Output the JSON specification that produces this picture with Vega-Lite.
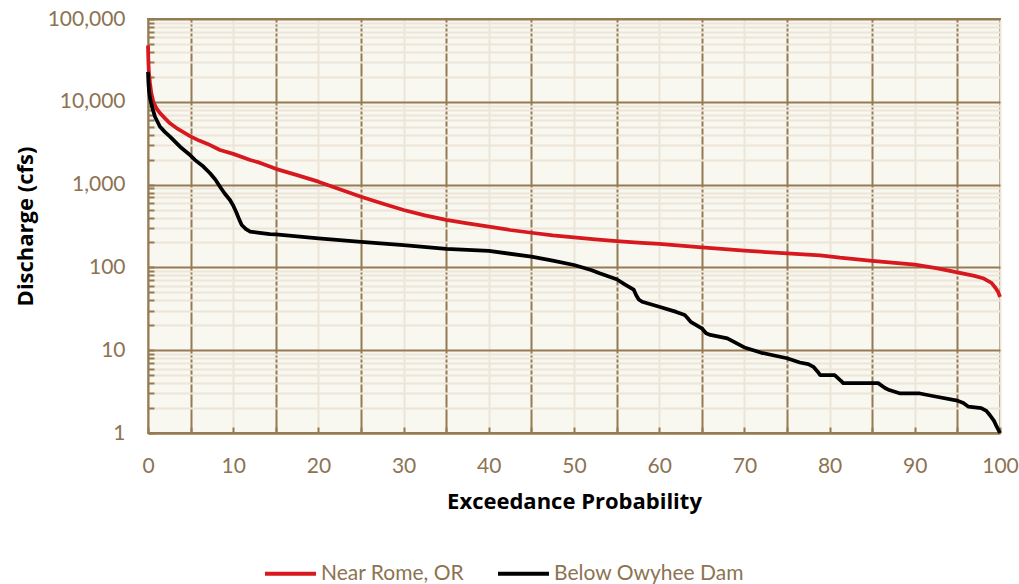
{
  "$schema": "https://vega.github.io/schema/vega-lite/v6.json",
  "width": 852,
  "height": 414,
  "autosize": {"type": "none"},
  "padding": {"left": 148, "top": 19, "right": 19, "bottom": 151},
  "background": "white",
  "config": {
    "view": {"fill": "#F8F7F0", "stroke": "#957B52", "strokeWidth": 2},
    "font": "Lato"
  },
  "datasets": {
    "flows": [
      {"site": "Near Rome, OR", "p": 0, "q": 48000},
      {"site": "Near Rome, OR", "p": 0.05, "q": 30000},
      {"site": "Near Rome, OR", "p": 0.1, "q": 23000},
      {"site": "Near Rome, OR", "p": 0.23, "q": 16900},
      {"site": "Near Rome, OR", "p": 0.4, "q": 12500},
      {"site": "Near Rome, OR", "p": 0.63, "q": 10000},
      {"site": "Near Rome, OR", "p": 1.0, "q": 8300},
      {"site": "Near Rome, OR", "p": 1.41, "q": 7300},
      {"site": "Near Rome, OR", "p": 2.0, "q": 6300},
      {"site": "Near Rome, OR", "p": 2.58, "q": 5500},
      {"site": "Near Rome, OR", "p": 3.5, "q": 4700},
      {"site": "Near Rome, OR", "p": 4.93, "q": 3850},
      {"site": "Near Rome, OR", "p": 6, "q": 3400},
      {"site": "Near Rome, OR", "p": 7, "q": 3100},
      {"site": "Near Rome, OR", "p": 8.45, "q": 2620},
      {"site": "Near Rome, OR", "p": 10, "q": 2350},
      {"site": "Near Rome, OR", "p": 12, "q": 1980},
      {"site": "Near Rome, OR", "p": 13.1, "q": 1840},
      {"site": "Near Rome, OR", "p": 15, "q": 1550},
      {"site": "Near Rome, OR", "p": 17.5, "q": 1300},
      {"site": "Near Rome, OR", "p": 20, "q": 1085},
      {"site": "Near Rome, OR", "p": 22.5, "q": 880},
      {"site": "Near Rome, OR", "p": 25, "q": 714},
      {"site": "Near Rome, OR", "p": 27.5, "q": 590},
      {"site": "Near Rome, OR", "p": 30, "q": 493},
      {"site": "Near Rome, OR", "p": 32.5, "q": 425},
      {"site": "Near Rome, OR", "p": 35, "q": 375},
      {"site": "Near Rome, OR", "p": 37.5, "q": 340},
      {"site": "Near Rome, OR", "p": 40, "q": 310},
      {"site": "Near Rome, OR", "p": 42.5, "q": 283},
      {"site": "Near Rome, OR", "p": 45, "q": 262},
      {"site": "Near Rome, OR", "p": 47.5, "q": 244},
      {"site": "Near Rome, OR", "p": 50, "q": 231},
      {"site": "Near Rome, OR", "p": 52.5, "q": 218},
      {"site": "Near Rome, OR", "p": 55, "q": 207},
      {"site": "Near Rome, OR", "p": 57.5, "q": 199},
      {"site": "Near Rome, OR", "p": 60, "q": 192},
      {"site": "Near Rome, OR", "p": 65, "q": 175},
      {"site": "Near Rome, OR", "p": 70, "q": 159},
      {"site": "Near Rome, OR", "p": 75, "q": 148},
      {"site": "Near Rome, OR", "p": 78.9, "q": 140},
      {"site": "Near Rome, OR", "p": 81.2, "q": 131},
      {"site": "Near Rome, OR", "p": 85, "q": 120},
      {"site": "Near Rome, OR", "p": 90, "q": 108},
      {"site": "Near Rome, OR", "p": 92.5, "q": 98},
      {"site": "Near Rome, OR", "p": 95, "q": 87},
      {"site": "Near Rome, OR", "p": 97, "q": 79},
      {"site": "Near Rome, OR", "p": 98, "q": 74},
      {"site": "Near Rome, OR", "p": 99, "q": 65},
      {"site": "Near Rome, OR", "p": 99.5, "q": 56},
      {"site": "Near Rome, OR", "p": 99.8, "q": 50},
      {"site": "Near Rome, OR", "p": 100, "q": 44},
      {"site": "Below Owyhee Dam", "p": 0, "q": 23000},
      {"site": "Below Owyhee Dam", "p": 0.05, "q": 17000},
      {"site": "Below Owyhee Dam", "p": 0.12, "q": 13500},
      {"site": "Below Owyhee Dam", "p": 0.23, "q": 11100},
      {"site": "Below Owyhee Dam", "p": 0.5, "q": 8500},
      {"site": "Below Owyhee Dam", "p": 0.82, "q": 6600},
      {"site": "Below Owyhee Dam", "p": 1.41, "q": 5000},
      {"site": "Below Owyhee Dam", "p": 2.0, "q": 4300},
      {"site": "Below Owyhee Dam", "p": 2.58, "q": 3800},
      {"site": "Below Owyhee Dam", "p": 3.76, "q": 2870},
      {"site": "Below Owyhee Dam", "p": 4.93, "q": 2280},
      {"site": "Below Owyhee Dam", "p": 5.5, "q": 1990},
      {"site": "Below Owyhee Dam", "p": 6.5, "q": 1650},
      {"site": "Below Owyhee Dam", "p": 7.28, "q": 1370},
      {"site": "Below Owyhee Dam", "p": 7.9, "q": 1150},
      {"site": "Below Owyhee Dam", "p": 8.45, "q": 944},
      {"site": "Below Owyhee Dam", "p": 9.0, "q": 780},
      {"site": "Below Owyhee Dam", "p": 9.62, "q": 651},
      {"site": "Below Owyhee Dam", "p": 10.0, "q": 560},
      {"site": "Below Owyhee Dam", "p": 10.4, "q": 454},
      {"site": "Below Owyhee Dam", "p": 10.7, "q": 380},
      {"site": "Below Owyhee Dam", "p": 11.0, "q": 325},
      {"site": "Below Owyhee Dam", "p": 11.5, "q": 290},
      {"site": "Below Owyhee Dam", "p": 12, "q": 270},
      {"site": "Below Owyhee Dam", "p": 13.1, "q": 262},
      {"site": "Below Owyhee Dam", "p": 14.3, "q": 253},
      {"site": "Below Owyhee Dam", "p": 15, "q": 250},
      {"site": "Below Owyhee Dam", "p": 20, "q": 224},
      {"site": "Below Owyhee Dam", "p": 25, "q": 204},
      {"site": "Below Owyhee Dam", "p": 30, "q": 186},
      {"site": "Below Owyhee Dam", "p": 35, "q": 167},
      {"site": "Below Owyhee Dam", "p": 40, "q": 158},
      {"site": "Below Owyhee Dam", "p": 45, "q": 135},
      {"site": "Below Owyhee Dam", "p": 47.5, "q": 121},
      {"site": "Below Owyhee Dam", "p": 50, "q": 107},
      {"site": "Below Owyhee Dam", "p": 52, "q": 93},
      {"site": "Below Owyhee Dam", "p": 53, "q": 85},
      {"site": "Below Owyhee Dam", "p": 55, "q": 72},
      {"site": "Below Owyhee Dam", "p": 56, "q": 62},
      {"site": "Below Owyhee Dam", "p": 57, "q": 54},
      {"site": "Below Owyhee Dam", "p": 57.3, "q": 46},
      {"site": "Below Owyhee Dam", "p": 57.6, "q": 41},
      {"site": "Below Owyhee Dam", "p": 58, "q": 38.5},
      {"site": "Below Owyhee Dam", "p": 60, "q": 33.5},
      {"site": "Below Owyhee Dam", "p": 62, "q": 29},
      {"site": "Below Owyhee Dam", "p": 63, "q": 26.6},
      {"site": "Below Owyhee Dam", "p": 63.4, "q": 24},
      {"site": "Below Owyhee Dam", "p": 63.7, "q": 22},
      {"site": "Below Owyhee Dam", "p": 65, "q": 18.4},
      {"site": "Below Owyhee Dam", "p": 65.5, "q": 16},
      {"site": "Below Owyhee Dam", "p": 66, "q": 15.3},
      {"site": "Below Owyhee Dam", "p": 68, "q": 13.9},
      {"site": "Below Owyhee Dam", "p": 70, "q": 10.8},
      {"site": "Below Owyhee Dam", "p": 72, "q": 9.3},
      {"site": "Below Owyhee Dam", "p": 75, "q": 8.0},
      {"site": "Below Owyhee Dam", "p": 76.5, "q": 7.1},
      {"site": "Below Owyhee Dam", "p": 77.5, "q": 6.8},
      {"site": "Below Owyhee Dam", "p": 78.1, "q": 6.3},
      {"site": "Below Owyhee Dam", "p": 78.6, "q": 5.5},
      {"site": "Below Owyhee Dam", "p": 78.9, "q": 5.0},
      {"site": "Below Owyhee Dam", "p": 80.6, "q": 5.0},
      {"site": "Below Owyhee Dam", "p": 81.3, "q": 4.3},
      {"site": "Below Owyhee Dam", "p": 81.6, "q": 4.0},
      {"site": "Below Owyhee Dam", "p": 85.7, "q": 4.0},
      {"site": "Below Owyhee Dam", "p": 86.5, "q": 3.5},
      {"site": "Below Owyhee Dam", "p": 87, "q": 3.3},
      {"site": "Below Owyhee Dam", "p": 88.3, "q": 3.0},
      {"site": "Below Owyhee Dam", "p": 90.6, "q": 3.0},
      {"site": "Below Owyhee Dam", "p": 92.1, "q": 2.8},
      {"site": "Below Owyhee Dam", "p": 95, "q": 2.46},
      {"site": "Below Owyhee Dam", "p": 95.7, "q": 2.3},
      {"site": "Below Owyhee Dam", "p": 96.3, "q": 2.08},
      {"site": "Below Owyhee Dam", "p": 97.8, "q": 2.0},
      {"site": "Below Owyhee Dam", "p": 98.4, "q": 1.85},
      {"site": "Below Owyhee Dam", "p": 98.8, "q": 1.65},
      {"site": "Below Owyhee Dam", "p": 99.3, "q": 1.4},
      {"site": "Below Owyhee Dam", "p": 99.6, "q": 1.2},
      {"site": "Below Owyhee Dam", "p": 100, "q": 1.0}
    ]
  },
  "data": {"name": "flows"},
  "mark": {"type": "line", "strokeWidth": 3.75, "strokeJoin": "round", "strokeCap": "butt"},
  "encoding": {
    "x": {
      "field": "p",
      "type": "quantitative",
      "scale": {"domain": [0, 100], "nice": false, "zero": false},
      "axis": {
        "values": [0, 5, 10, 15, 20, 25, 30, 35, 40, 45, 50, 55, 60, 65, 70, 75, 80, 85, 90, 95, 100],
        "labelExpr": "datum.value % 10 === 0 ? datum.label : ''",
        "format": "d",
        "grid": true,
        "gridColor": {"condition": {"test": "datum.value % 10 === 0", "value": "#EDE5D8"}, "value": "#957B52"},
        "gridWidth": 2,
        "domainColor": "#957B52",
        "domainWidth": 2,
        "ticks": true,
        "tickSize": -6,
        "tickWidth": 2,
        "tickColor": "#957B52",
        "labelFont": "Lato",
        "labelFontSize": 21,
        "labelColor": "#8C7352",
        "labelPadding": 28,
        "labelFlush": false,
        "labelOverlap": false,
        "title": "Exceedance Probability",
        "titleFont": "Open Sans",
        "titleFontSize": 22,
        "titleFontWeight": "bold",
        "titleColor": "#000000",
        "titlePadding": 15
      }
    },
    "y": {
      "field": "q",
      "type": "quantitative",
      "scale": {"type": "log", "domain": [1, 100000], "nice": false},
      "axis": {
        "values": [1, 2, 3, 4, 5, 6, 7, 8, 9, 10, 20, 30, 40, 50, 60, 70, 80, 90, 100, 200, 300, 400, 500, 600, 700, 800, 900, 1000, 2000, 3000, 4000, 5000, 6000, 7000, 8000, 9000, 10000, 20000, 30000, 40000, 50000, 60000, 70000, 80000, 90000, 100000],
        "labelExpr": "indexof([1, 10, 100, 1000, 10000, 100000], datum.value) >= 0 ? format(datum.value, ',') : ''",
        "grid": true,
        "gridColor": {"condition": {"test": "indexof([1, 10, 100, 1000, 10000, 100000], datum.value) >= 0", "value": "#957B52"}, "value": "#EDE5D8"},
        "gridWidth": 2,
        "domainColor": "#957B52",
        "domainWidth": 2,
        "ticks": true,
        "tickSize": -6,
        "tickWidth": 2,
        "tickColor": "#957B52",
        "labelFont": "Lato",
        "labelFontSize": 21,
        "labelColor": "#8C7352",
        "labelPadding": 29,
        "labelFlush": false,
        "labelOverlap": false,
        "title": "Discharge (cfs)",
        "titleFont": "Open Sans",
        "titleFontSize": 22,
        "titleFontWeight": "bold",
        "titleColor": "#000000",
        "titlePadding": 10
      }
    },
    "color": {
      "field": "site",
      "type": "nominal",
      "scale": {"domain": ["Near Rome, OR", "Below Owyhee Dam"], "range": ["#D7191F", "#000000"]},
      "legend": {
        "orient": "none",
        "legendX": 115,
        "legendY": 527,
        "direction": "horizontal",
        "title": null,
        "symbolType": "stroke",
        "symbolSize": 2601,
        "symbolStrokeWidth": 4,
        "labelFont": "Lato",
        "labelFontSize": 21,
        "labelColor": "#8C7352",
        "labelLimit": 400,
        "labelOffset": 3,
        "columnPadding": 25,
        "padding": 0
      }
    }
  }
}
